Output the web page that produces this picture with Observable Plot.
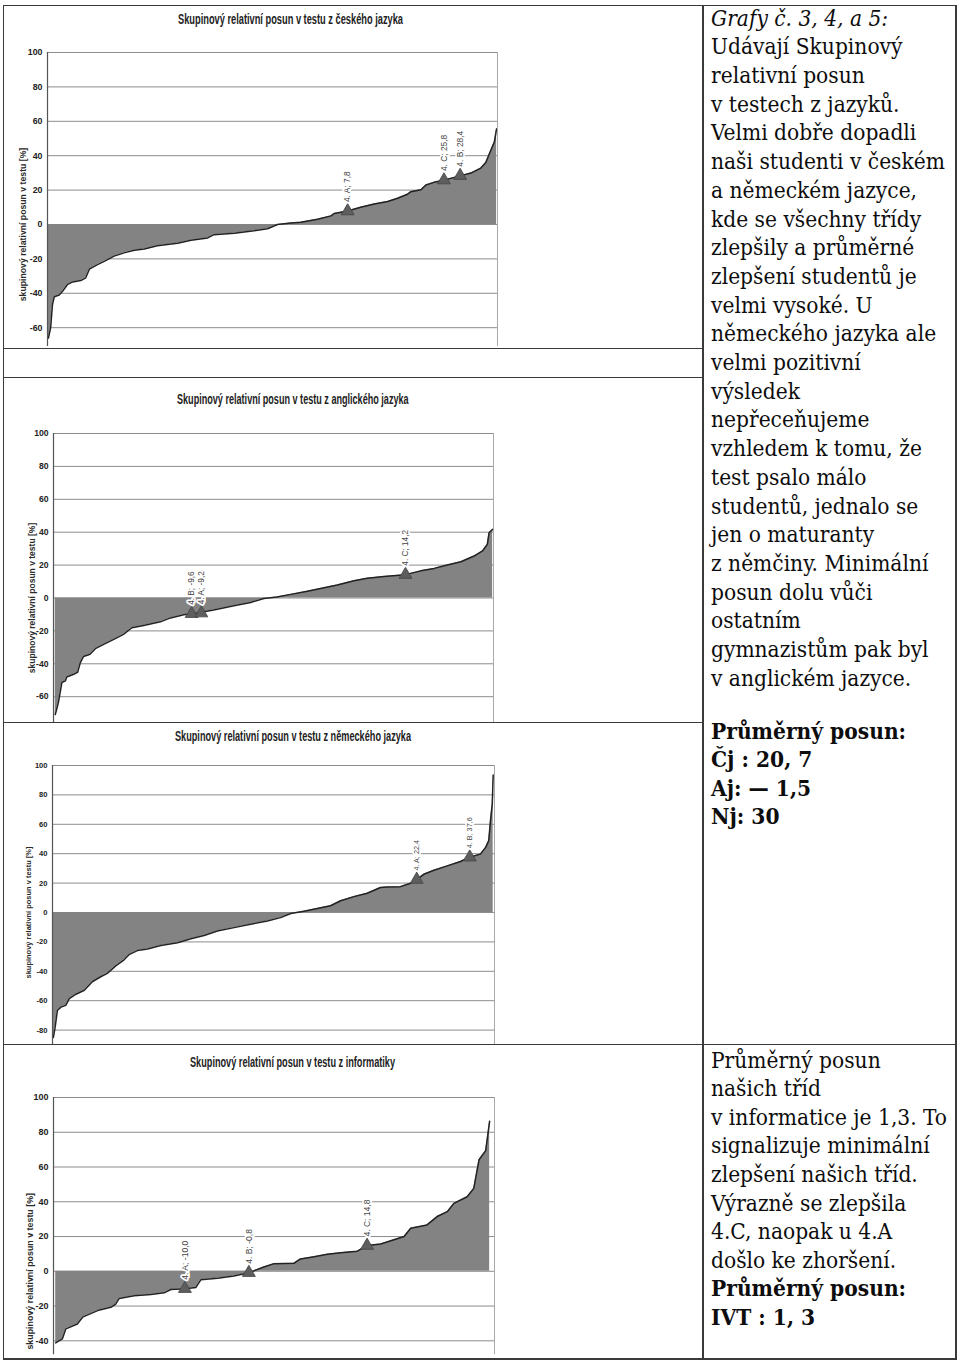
<!DOCTYPE html>
<html lang="cs"><head><meta charset="utf-8">
<script src="https://cdn.jsdelivr.net/npm/d3@7"></script>
<script src="https://cdn.jsdelivr.net/npm/@observablehq/plot@0.6"></script>
<style>
html,body{margin:0;padding:0;background:#fff;}
#page{position:relative;width:960px;height:1363px;overflow:hidden;background:#fff;}
.ln{position:absolute;background:#3a3a3a;}
.chart{position:absolute;left:0;}
.ctitle{position:absolute;font-family:"Liberation Sans Narrow","Liberation Sans",Arial,sans-serif;font-weight:bold;font-size:14px;color:#222;white-space:nowrap;transform-origin:0 0;line-height:1;}
.txt{position:absolute;left:711px;font-family:"DejaVu Serif Condensed","DejaVu Serif",serif;font-stretch:condensed;font-size:22.5px;color:#0d0d0d;white-space:nowrap;}
</style></head><body><div id="page"></div>
<script>
// ---------------- data ----------------
const chartTitles = [
  "Skupinový relativní posun v testu z českého jazyka",
  "Skupinový relativní posun v testu z anglického jazyka",
  "Skupinový relativní posun v testu z německého jazyka",
  "Skupinový relativní posun v testu z informatiky"
];
const yTitle = "skupinový relativní posun v testu [%]";

// Czech (rank percentile of schools, group shift %)
const cjRank  = [0.2,0.7,1.1,1.5,2.6,3.3,4.4,5.6,7.4,8.5,9.3,11.1,12.6,14.8,17.0,19.3,21.5,24.4,28.9,31.9,35.6,37.0,41.5,45.9,48.9,51.1,54.1,56.3,60.0,63.0,63.7,66.7,69.6,72.6,75.6,77.8,80.0,80.7,83.0,84.1,85.9,88.1,91.9,94.1,96.3,97.4,98.5,99.3,99.8];
const cjShift = [-66,-60,-46.6,-42,-41,-39,-35,-33.4,-32.6,-31,-26,-23.3,-21.4,-18.4,-16.5,-15,-14.2,-12.4,-10.9,-9.1,-7.8,-5.9,-5.1,-3.7,-2.5,0,0.8,1.3,3.1,5.0,6.4,7.8,10,11.9,13.4,15.3,17.6,19,20.2,23,24.5,25.8,28.4,29.9,32.8,36,43,48,55.6];
const cjMarkLabel = ["4. A; 7,8","4. C; 25,8","4. B; 28,4"];
const cjMarkRank  = [66.7, 88.1, 91.7];
const cjMarkShift = [7.8, 25.8, 28.4];

// English
const ajRank  = [0.4,1.1,1.9,2.7,3.0,4.6,5.5,6.1,6.8,8.3,9.5,11.4,13.7,15.9,17.8,20.5,24.3,26.6,29.6,31.9,36.4,41.0,44.8,47.8,50.8,53.9,57.7,60.7,64.5,68.3,71.3,75.1,80.0,83.5,86.5,89.5,92.6,95.6,97.5,98.6,99.0,99.8];
const ajShift = [-70.8,-63.7,-51.4,-50.4,-48,-46.4,-45,-39.3,-35.6,-34.2,-30.8,-28.2,-25.2,-22.1,-18.1,-16.7,-14.5,-12.1,-10.2,-9.4,-7.3,-4.7,-2.7,-0.3,0.6,2.2,4.1,5.8,7.9,10.5,12.0,13.0,14.2,16.5,18,20,22,25.5,28.6,32.6,39.7,41.7];
const ajMarkLabel = ["4. B; -9,6","4. A; -9,2","4. C; 14,2"];
const ajMarkRank  = [31.4, 33.6, 80.0];
const ajMarkShift = [-9.6, -9.2, 14.2];

// German
const njRank  = [0.2,0.6,1.1,1.9,3.0,3.8,5.3,7.2,9.0,10.9,12.4,14.3,16.2,17.3,19.2,21.5,24.5,28.3,31.3,34.3,37.3,41.1,44.8,48.6,51.6,53.9,56.9,59.9,62.9,65.2,68.2,71.2,74.2,75.7,78.7,81.0,82.4,84.0,86.3,89.3,92.3,94.4,96.8,98.0,98.7,99.1,99.5,99.7];
const njShift = [-85,-78,-66.7,-64.4,-63.2,-58.6,-55.6,-52.9,-47.1,-43.7,-41.4,-36.3,-32.2,-28.7,-25.9,-24.8,-22.5,-20.6,-17.9,-15.6,-12.6,-10.3,-8,-5.8,-3.5,-0.7,0.9,2.7,4.6,8,10.8,13.1,17,17.4,17.6,19.9,22.4,26,28.7,31.7,34.7,37.6,39.7,44.3,48.9,62.7,74,93.6];
const njMarkLabel = ["4. A; 22,4","4. B; 37,6"];
const njMarkRank  = [82.4, 94.4];
const njMarkShift = [22.4, 37.6];

// Informatics
const ivtRank  = [0.5,2.0,2.8,5.4,6.6,10.0,13.0,14.1,14.9,18.3,22.1,25.1,26.6,29.8,32.3,33.4,37.2,40.9,44.3,47.7,50.0,54.5,56.0,59.1,62.1,65.1,68.9,71.1,74.2,77.2,79.5,81.0,84.7,87.0,89.3,90.8,93.8,95.3,96.5,98.0,98.9];
const ivtShift = [-41.2,-38.9,-33.1,-30.3,-26.4,-22.6,-20.7,-18.9,-15.6,-14.1,-13.3,-12.4,-10.5,-10.0,-9.3,-4.9,-4.0,-2.7,-0.8,2.5,4.4,4.6,7.1,8.4,9.8,10.7,11.6,14.8,15.7,18.1,20.0,24.8,26.7,31.5,34.3,39.1,42.9,47.7,64.2,69.4,86.4];
const ivtMarkLabel = ["4. A; -10,0","4. B; -0,8","4. C; 14,8"];
const ivtMarkRank  = [29.8, 44.3, 71.1];
const ivtMarkShift = [-10.0, -0.8, 14.8];

const ticksCj  = [100,80,60,40,20,0,-20,-40,-60];
const ticksAj  = [100,80,60,40,20,0,-20,-40,-60];
const ticksNj  = [100,80,60,40,20,0,-20,-40,-60,-80];
const ticksIvt = [100,80,60,40,20,0,-20,-40];

const introHead = "Grafy č. 3, 4, a 5:";
const introLines = ["Udávají Skupinový","relativní posun","v testech z jazyků.","Velmi dobře dopadli","naši studenti v českém","a německém jazyce,","kde se všechny třídy","zlepšily a průměrné","zlepšení studentů je","velmi vysoké. U","německého jazyka ale","velmi pozitivní","výsledek","nepřeceňujeme","vzhledem k tomu, že","test psalo málo","studentů, jednalo se","jen o maturanty","z němčiny. Minimální","posun dolu vůči","ostatním","gymnazistům pak byl","v anglickém jazyce."];
const meanLines = ["Průměrný posun:","Čj : 20, 7","Aj: — 1,5","Nj: 30"];
const ivtLines = ["Průměrný posun","našich tříd","v informatice je 1,3. To","signalizuje minimální","zlepšení našich tříd.","Výrazně se zlepšila","4.C, naopak u 4.A","došlo ke zhoršení."];
const ivtMeanLines = ["Průměrný posun:","IVT : 1, 3"];

// ---------------- layout ----------------
const page = document.getElementById("page");
const layout = [
  {left:47, right:497, top:52,    ymin:-71, k:1.72,  fs:1.0,  tcx:290.5, tw:225,   tbase:23.5, ytDx:-24},
  {left:53, right:493, top:432.5, ymin:-76, k:1.645, fs:0.98, tcx:292.5, tw:231.6, tbase:403,  ytDx:-21.5},
  {left:52, right:494, top:765,   ymin:-90, k:1.47,  fs:0.86, tcx:292.5, tw:236,   tbase:740,  ytDx:-23.5},
  {left:53, right:494, top:1097,  ymin:-48, k:1.738, fs:1.02, tcx:292.5, tw:205,   tbase:1066, ytDx:-23.5}
];
const series = [
  [cjRank, cjShift, cjMarkLabel, cjMarkRank, cjMarkShift, ticksCj],
  [ajRank, ajShift, ajMarkLabel, ajMarkRank, ajMarkShift, ticksAj],
  [njRank, njShift, njMarkLabel, njMarkRank, njMarkShift, ticksNj],
  [ivtRank, ivtShift, ivtMarkLabel, ivtMarkRank, ivtMarkShift, ticksIvt]
];

series.forEach(([rank, shift, mLab, mRank, mShift, ticks], i) => {
  const L = layout[i];
  const data = rank.map((r, j) => ({rank: r, shift: shift[j]}));
  const marks = mLab.map((t, j) => ({label: t, rank: mRank[j], shift: mShift[j]}));
  const mt = 10, mb = 2;
  const ph = (100 - L.ymin) * L.k;
  const W = 700;
  const svg = Plot.plot({
    width: W, height: ph + mt + mb,
    marginLeft: L.left, marginRight: W - L.right, marginTop: mt, marginBottom: mb,
    x: {domain: [0, 100], axis: null},
    y: {domain: [L.ymin, 100], axis: null},
    style: {background: "transparent", overflow: "visible", fontFamily: "Liberation Sans, Arial, sans-serif"},
    marks: [
      Plot.ruleY(ticks, {stroke: "#8c8c8c", strokeWidth: 1}),
      Plot.areaY(data, {x: "rank", y: "shift", fill: "#838383"}),
      Plot.lineY(data, {x: "rank", y: "shift", stroke: "#222", strokeWidth: 1.5}),
      Plot.ruleX([100], {stroke: "#a8a8a8", strokeWidth: 1}),
      Plot.ruleX([0], {stroke: "#555", strokeWidth: 1.2}),
      Plot.axisY(ticks, {tickSize: 0, tickPadding: 5, tickFormat: d => String(d), label: null,
        fontWeight: "bold", fontSize: 8.8 * L.fs, fill: "#222",
        fontFamily: "Liberation Sans Narrow, Liberation Sans, Arial, sans-serif"}),
      Plot.text([yTitle], {text: d => d, frameAnchor: "left", y: () => 0, dx: L.ytDx, rotate: -90,
        textAnchor: "middle", fontWeight: "bold", fontSize: 8.7 * L.fs, fill: "#2a2a2a"}),
      Plot.dot(marks, {x: "rank", y: "shift", symbol: "triangle", r: 4.8, fill: "#5e5e5e", stroke: "#444", strokeWidth: 0.8}),
      Plot.text(marks, {x: "rank", y: "shift", text: "label", rotate: -90, textAnchor: "start", dy: -9,
        fontSize: 8.4 * L.fs, fill: "#444", stroke: "white", strokeWidth: 3.5})
    ]
  });
  svg.style.position = "absolute";
  svg.style.left = "0px";
  svg.style.top = (L.top - mt) + "px";
  svg.style.maxWidth = "none";
  page.appendChild(svg);

  const t = document.createElement("div");
  t.className = "ctitle";
  t.textContent = chartTitles[i];
  page.appendChild(t);
  const w = t.getBoundingClientRect().width;
  const s = L.tw / w;
  t.style.left = (L.tcx - L.tw / 2) + "px";
  t.style.top = (L.tbase - 11.5) + "px";
  t.style.transform = `scaleX(${s})`;
});

// ---------------- text column ----------------
function block(lines, topCenter, lh, styleFn) {
  const d = document.createElement("div");
  d.className = "txt";
  d.style.top = (topCenter - lh / 2) + "px";
  d.style.lineHeight = lh + "px";
  lines.forEach((l, j) => {
    const s = document.createElement("div");
    s.textContent = l;
    if (styleFn) styleFn(s, j);
    d.appendChild(s);
  });
  page.appendChild(d);
}
block([introHead, ...introLines], 18, 28.7, (s, j) => { if (j === 0) s.style.fontStyle = "italic"; });
block(meanLines, 731, 28.5, s => { s.style.fontWeight = "bold"; });
block([...ivtLines, ...ivtMeanLines], 1060, 28.56, (s, j) => { if (j >= ivtLines.length) s.style.fontWeight = "bold"; });

// ---------------- table rules ----------------
function rule(x, y, w, h) {
  const d = document.createElement("div");
  d.className = "ln";
  Object.assign(d.style, {left: x + "px", top: y + "px", width: w + "px", height: h + "px"});
  page.appendChild(d);
}
rule(3, 4.5, 953, 1.5);      // top
rule(3, 1358, 953, 1.5);     // bottom
rule(2.5, 4.5, 1.5, 1355);   // left
rule(955, 4.5, 1.5, 1355);   // right
rule(702, 4.5, 1.5, 1355);   // column divider
rule(3, 347.5, 700, 1.5);
rule(3, 376.5, 700, 1.5);
rule(3, 721.5, 700, 1.5);
rule(3, 1043.5, 953, 1.5);
</script>
</body></html>
